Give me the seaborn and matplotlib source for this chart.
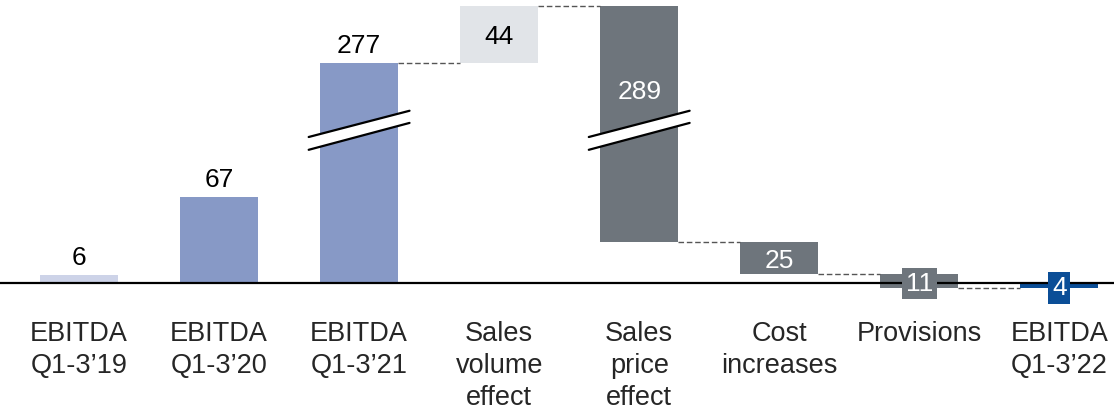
import numpy as np
import pandas as pd
import matplotlib
matplotlib.use("Agg")
import matplotlib.pyplot as plt
import seaborn as sns

# ---- data -------------------------------------------------------------
categories = [
    "EBITDA\nQ1-3\u201919",
    "EBITDA\nQ1-3\u201920",
    "EBITDA\nQ1-3\u201921",
    "Sales\nvolume\neffect",
    "Sales\nprice\neffect",
    "Cost\nincreases",
    "Provisions",
    "EBITDA\nQ1-3\u201922",
]
values = [6, 67, 277, 44, -289, -25, -11, -4]
is_total = [True, True, True, False, False, False, False, True]
colors = ["#cdd3e8", "#8799c6", "#8799c6", "#e1e4e8",
          "#6e757c", "#6e757c", "#6e757c", "#0b4e97"]
label_colors = ["black", "black", "black", "black",
                "white", "white", "white", "white"]
broken_bars = [2, 4]

# ---- waterfall geometry -------------------------------------------------
bottoms, heights, ends = [], [], []
running = 0.0
for v, tot in zip(values, is_total):
    if tot:
        bottoms.append(0.0)
        heights.append(v)
        running = v
    else:
        bottoms.append(running)
        heights.append(v)
        running = running + v
    ends.append(running)

df = pd.DataFrame({"category": categories, "height": heights})

# ---- broken y axis: squeeze the range [BRK, BRK + GAP] -----------------
BRK, GAP, KEEP = 140.0, 105.5, 0.5


def fwd(y):
    y = np.asarray(y, dtype=float)
    return np.where(y <= BRK, y,
                    np.where(y < BRK + GAP, BRK + (y - BRK) * KEEP / GAP,
                             y - GAP + KEEP))


def inv(d):
    d = np.asarray(d, dtype=float)
    return np.where(d <= BRK, d,
                    np.where(d < BRK + KEEP, BRK + (d - BRK) * GAP / KEEP,
                             d + GAP - KEEP))


sns.set_theme(style="white")
plt.rcParams["font.family"] = ["Liberation Sans", "DejaVu Sans"]
FS = 19
FS_TICK = 19.5

fig = plt.figure(figsize=(11.14, 4.09), dpi=100)
ax = fig.add_axes([0.0, 109 / 409, 1.0, 300 / 409])

BAR_W = 0.557
sns.barplot(data=df, x="category", y="height", order=categories,
            bottom=bottoms, width=BAR_W, errorbar=None, linewidth=0,
            color=colors[0], ax=ax)
for patch, c in zip(ax.patches, colors):
    patch.set_facecolor(c)
    patch.set_edgecolor("none")

ax.set_yscale("function", functions=(fwd, inv))
ax.set_xlim(-0.564, 7.39)
ax.set_ylim(-13.3, 326.0)
for s in ax.spines.values():
    s.set_visible(False)
ax.set_ylabel("")
ax.set_xlabel("")
ax.set_yticks([])
ax.set_xticks(range(len(categories)))
ax.set_xticklabels(categories, fontsize=FS_TICK, linespacing=1.3,
                   multialignment="center")
ax.tick_params(axis="x", length=0, pad=15)

# zero line
ax.axhline(0, color="black", lw=1.6, zorder=5)

# dashed connectors between consecutive bars
for i in range(2, len(values) - 1):
    lvl = ends[i]
    ax.plot([i + BAR_W / 2, i + 1 - BAR_W / 2], [lvl, lvl],
            color="#555555", lw=1, ls=(0, (4, 2)), zorder=1)

# break marks on the long bars
half = 0.36
for i in broken_bars:
    lo_l, lo_r = 104.0, 125.0
    up_l, up_r = 114.0, 134.5
    ax.fill([i - half, i + half, i + half, i - half],
            [lo_l, lo_r, up_r, up_l], color="white", zorder=6, lw=0)
    ax.plot([i - half, i + half], [lo_l, lo_r], color="black", lw=1.6, zorder=7)
    ax.plot([i - half, i + half], [up_l, up_r], color="black", lw=1.6, zorder=7)

# value labels
for i, (v, b, h) in enumerate(zip(values, bottoms, heights)):
    txt = f"{abs(v)}"
    top = max(b, b + h)
    mid = b + h / 2
    if is_total[i] and v > 0:
        ax.annotate(txt, (i, top), xytext=(0, 10), textcoords="offset pixels",
                    ha="center", va="baseline", fontsize=FS,
                    color=label_colors[i], zorder=8)
    elif i in broken_bars:
        ax.annotate(txt, (i, top), xytext=(0, -83), textcoords="offset pixels",
                    ha="center", va="center_baseline", fontsize=FS,
                    color=label_colors[i], zorder=8)
    elif abs(h) >= 20:
        ax.annotate(txt, (i, mid), ha="center", va="center_baseline",
                    fontsize=FS, color=label_colors[i], zorder=8)
    else:
        ax.annotate(txt, (i, mid), ha="center", va="center_baseline",
                    fontsize=FS, color=label_colors[i], zorder=8,
                    bbox=dict(boxstyle="square,pad=0.14", fc=colors[i],
                              ec="none"))

fig.savefig("out.png", dpi=100)
